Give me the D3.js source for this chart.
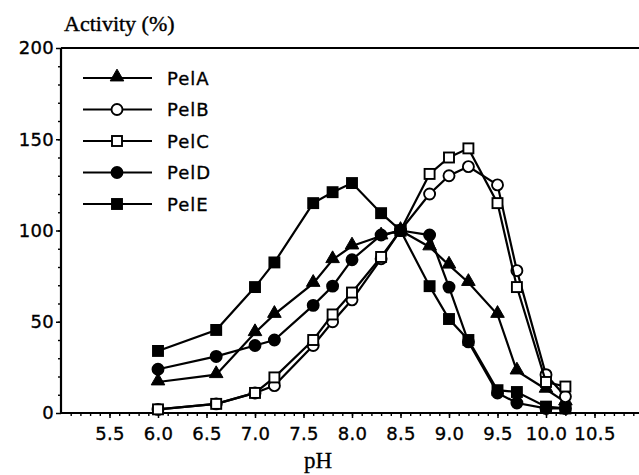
<!DOCTYPE html>
<html>
<head>
<meta charset="utf-8">
<script src="https://cdn.jsdelivr.net/npm/d3@7"></script>
<style>
    body { margin: 0; background: #fff; }
    svg { display: block; }
</style>
</head>
<body>
<svg id="chart" width="639" height="475"></svg>
<script>
// values
const phValues = [6.0, 6.6, 7.0, 7.2, 7.6, 7.8, 8.0, 8.3, 8.5, 8.8, 9.0, 9.2, 9.5, 9.7, 10.0, 10.2];
const pelA = [17, 21, 44, 54, 71, 84, 91.5, 97, 100, 91, 81, 71.5, 54, 23, 13, 6];
const pelB = [2, 5, 11, 15, 37, 50, 62, 84.5, 100, 120, 130, 135, 125, 78, 21, 9];
const pelC = [2, 5, 11, 19.5, 40, 54, 66, 85.5, 100, 131, 140, 145, 115, 69, 17, 14.5];
const pelD = [24, 31, 37, 40, 59, 69.5, 84, 97.5, 100, 97.5, 69, 39, 11, 5.5, 2.5, 2.5];
const pelE = [34, 45.5, 69, 82.5, 115, 121, 126, 109.5, 100, 69.5, 51.5, 40, 12.5, 11.5, 3.5, 2.5];

const seriesNames = ["PelA", "PelB", "PelC", "PelD", "PelE"];
const seriesValues = [pelA, pelB, pelC, pelD, pelE];
const seriesMarkers = ["triangle", "circle", "square", "circle", "square"];
const seriesFilled = [true, false, false, true, true];

const xTickLabels = [5.5, 6.0, 6.5, 7.0, 7.5, 8.0, 8.5, 9.0, 9.5, 10.0, 10.5];
const yTickLabels = [0, 50, 100, 150, 200];

const svg = d3.select("#chart");
const margin = { left: 61, top: 48, bottom: 413 };

const x = d3.scaleLinear().domain([5, 11]).range([margin.left, 643]);
const y = d3.scaleLinear().domain([0, 200]).range([margin.bottom, margin.top]);

const tickFont = "'DejaVu Sans', sans-serif";
const serifFont = "'Liberation Serif', 'Times New Roman', serif";

function styleLabel(sel) {
    sel.style("font-family", tickFont)
       .style("font-size", "18px")
       .style("letter-spacing", "0.3px")
       .attr("fill", "#000")
       .attr("stroke", "#000")
       .attr("stroke-width", 0.35);
}

// minor ticks
svg.append("g")
   .attr("transform", "translate(0," + margin.bottom + ")")
   .call(d3.axisBottom(x).tickValues(d3.range(51, 111).map(d => d / 10)).tickSize(3).tickFormat(""))
   .call(g => g.select(".domain").remove())
   .selectAll("line").attr("stroke-width", 1.4);

svg.append("g")
   .attr("transform", "translate(" + margin.left + ",0)")
   .call(d3.axisLeft(y).tickValues(d3.range(10, 200, 10)).tickSize(3).tickFormat(""))
   .call(g => g.select(".domain").remove())
   .selectAll("line").attr("stroke-width", 1.4);

// major axes
const xAxis = svg.append("g")
   .attr("transform", "translate(0," + margin.bottom + ")")
   .call(d3.axisBottom(x).tickValues(xTickLabels).tickSize(5).tickPadding(9)
       .tickFormat(d3.format(".1f")))
   .call(g => g.select(".domain").attr("d", "M" + margin.left + ",0H639").attr("stroke-width", 2.2));
xAxis.selectAll("line").attr("stroke-width", 1.5);
xAxis.selectAll("text").call(styleLabel);

const yAxis = svg.append("g")
   .attr("transform", "translate(" + margin.left + ",0)")
   .call(d3.axisLeft(y).tickValues(yTickLabels).tickSize(5).tickPadding(2))
   .call(g => g.select(".domain").attr("d", "M0," + margin.top + "V" + margin.bottom).attr("stroke-width", 2.2));
yAxis.selectAll("line").attr("stroke-width", 1.5);
yAxis.selectAll("text").call(styleLabel);

// top frame line
svg.append("line")
   .attr("x1", margin.left).attr("x2", 639)
   .attr("y1", y(200)).attr("y2", y(200))
   .attr("stroke", "#000").attr("stroke-width", 2.2);

// titles
svg.append("text")
   .attr("x", 64).attr("y", 31)
   .style("font-family", serifFont)
   .style("font-size", "22px")
   .attr("stroke", "#000").attr("stroke-width", 0.4)
   .text("Activity (%)");

svg.append("text")
   .attr("x", 318).attr("y", 468)
   .attr("text-anchor", "middle")
   .style("font-family", serifFont)
   .style("font-size", "23px")
   .attr("stroke", "#000").attr("stroke-width", 0.3)
   .text("pH");

function drawMarker(g, type, filled, cx, cy) {
    const fill = filled ? "#000" : "#fff";
    if (type === "circle") {
        g.append("circle").attr("cx", cx).attr("cy", cy).attr("r", 5.5)
         .attr("fill", fill).attr("stroke", "#000").attr("stroke-width", 1.9);
    } else if (type === "square") {
        g.append("rect").attr("x", cx - 5).attr("y", cy - 5).attr("width", 10).attr("height", 10)
         .attr("fill", fill).attr("stroke", "#000").attr("stroke-width", 1.9);
    } else {
        g.append("path").attr("d", d3.symbol(d3.symbolTriangle, 80)())
         .attr("transform", "translate(" + cx + "," + (cy - 1) + ")")
         .attr("fill", fill).attr("stroke", "#000").attr("stroke-width", 1);
    }
}

const line = d3.line()
               .x((d, i) => x(phValues[i]))
               .y(d => y(d));

seriesValues.forEach((values, s) => {
    const g = svg.append("g").attr("class", "series series-" + seriesNames[s]);
    g.append("path")
     .attr("d", line(values))
     .attr("fill", "none")
     .attr("stroke", "#000")
     .attr("stroke-width", 2.2);
    values.forEach((v, i) => drawMarker(g, seriesMarkers[s], seriesFilled[s], x(phValues[i]), y(v)));
});

// legend
const legend = svg.append("g").attr("class", "legend");
seriesNames.forEach((name, i) => {
    const ly = 78 + i * 31.5;
    const row = legend.append("g");
    row.append("line")
       .attr("x1", 83).attr("x2", 152)
       .attr("y1", ly).attr("y2", ly)
       .attr("stroke", "#000").attr("stroke-width", 2.2);
    drawMarker(row, seriesMarkers[i], seriesFilled[i], 117, ly);
    row.append("text")
       .attr("x", 167).attr("y", ly + 6.5)
       .call(styleLabel)
       .style("letter-spacing", "1px");
    row.select("text").text(name);
});
</script>
</body>
</html>
